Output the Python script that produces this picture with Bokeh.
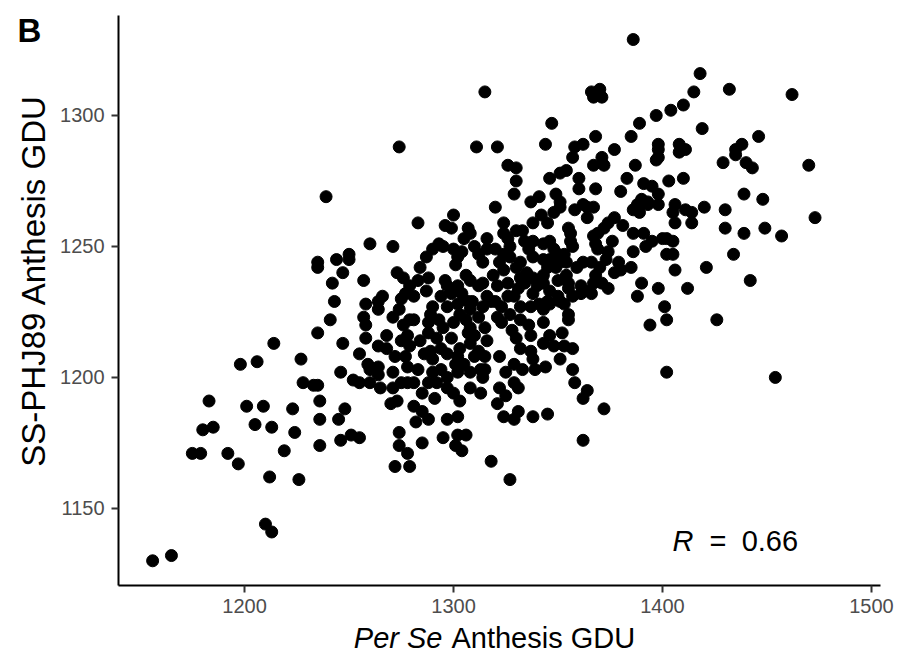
import math

from bokeh.plotting import figure
from bokeh.models import Label, Range1d, FixedTicker
from bokeh.embed import file_html
from bokeh.resources import INLINE

# Per se anthesis GDU (x) and SS-PHJ89 testcross anthesis GDU (y) for each line
per_se_gdu = [
    1156, 1165, 1210, 1213, 1212, 1226, 1175, 1179, 1192, 1197,
    1219, 1183, 1180, 1185, 1201, 1209, 1205, 1213, 1223, 1224,
    1236, 1198, 1206, 1214, 1227, 1228, 1233, 1235, 1236, 1236,
    1235, 1239, 1300, 1283, 1296, 1299, 1307, 1308, 1305, 1316,
    1260, 1271, 1250, 1250, 1235, 1235, 1244, 1247, 1242, 1257,
    1243, 1241, 1293, 1295, 1290, 1287, 1284, 1300, 1304, 1302,
    1301, 1310, 1312, 1314, 1273, 1276, 1288, 1283, 1279, 1277,
    1275, 1274, 1296, 1297, 1299, 1306, 1308, 1312, 1314, 1302,
    1304, 1307, 1302, 1266, 1264, 1264, 1258, 1290, 1297, 1303,
    1308, 1312, 1314, 1279, 1281, 1288, 1293, 1295, 1257, 1258,
    1315, 1308, 1247, 1255, 1258, 1264, 1268, 1246, 1252, 1255,
    1259, 1260, 1264, 1264, 1260, 1265, 1271, 1271, 1275, 1278,
    1281, 1270, 1273, 1248, 1245, 1251, 1255, 1246, 1274, 1274,
    1278, 1272, 1279, 1281, 1285, 1288, 1282, 1285, 1291, 1295,
    1297, 1302, 1302, 1306, 1301, 1304, 1318, 1275, 1278, 1279,
    1277, 1278, 1283, 1286, 1284, 1288, 1299, 1294, 1297, 1290,
    1294, 1297, 1302, 1305, 1310, 1313, 1314, 1312, 1308, 1307,
    1316, 1297, 1300, 1303, 1308, 1313, 1288, 1290, 1302, 1303,
    1386, 1315, 1366, 1370, 1371, 1367, 1347, 1389, 1321, 1311,
    1274, 1344, 1358, 1362, 1357, 1368, 1377, 1385, 1326, 1330,
    1351, 1354, 1367, 1372, 1371, 1387, 1418, 1432, 1462, 1415,
    1410, 1404, 1397, 1419, 1446, 1398, 1398, 1398, 1408, 1411,
    1408, 1438, 1435, 1435, 1429, 1440, 1443, 1470, 1330, 1329,
    1320, 1337, 1341, 1346, 1360, 1360, 1368, 1383, 1380, 1349,
    1351, 1351, 1348, 1345, 1362, 1364, 1367, 1364, 1377, 1374,
    1372, 1369, 1367, 1338, 1324, 1324, 1326, 1330, 1333, 1334,
    1355, 1356, 1356, 1357, 1368, 1369, 1374, 1373, 1370, 1368,
    1379, 1362, 1338, 1343, 1346, 1348, 1350, 1353, 1351, 1320,
    1324, 1327, 1338, 1343, 1346, 1345, 1349, 1354, 1324, 1330,
    1332, 1335, 1338, 1321, 1326, 1331, 1334, 1343, 1343, 1350,
    1355, 1355, 1361, 1365, 1367, 1371, 1374, 1377, 1380, 1316,
    1320, 1326, 1329, 1332, 1338, 1341, 1345, 1350, 1353, 1357,
    1361, 1366, 1323, 1327, 1321, 1337, 1343, 1346, 1351, 1355,
    1336, 1343, 1323, 1315, 1315, 1330, 1332, 1337, 1343, 1346,
    1348, 1352, 1353, 1357, 1355, 1329, 1333, 1338, 1339, 1344,
    1357, 1329, 1331, 1322, 1325, 1358, 1364, 1362, 1321, 1324,
    1329, 1331, 1338, 1345, 1372, 1362, 1327, 1397, 1391, 1395,
    1398, 1403, 1410, 1439, 1448, 1473, 1390, 1393, 1388, 1386,
    1389, 1393, 1398, 1406, 1405, 1406, 1411, 1414, 1414, 1420,
    1430, 1430, 1439, 1449, 1457, 1386, 1391, 1395, 1392, 1400,
    1402, 1405, 1402, 1405, 1386, 1434, 1406, 1421, 1385, 1442,
    1390, 1398, 1412, 1388, 1401, 1402, 1394, 1426, 1402, 1454,
    1271, 1276, 1289, 1292, 1300, 1306, 1310, 1301, 1308, 1292,
    1285, 1289, 1272, 1268, 1281, 1287, 1294, 1309, 1318, 1319,
    1316, 1332, 1340, 1346, 1354, 1359, 1366, 1376, 1381, 1358,
    1342, 1336, 1327, 1322, 1332, 1328, 1337, 1322, 1325, 1351,
]

phj89_gdu = [
    1130, 1132, 1144, 1141, 1162, 1161, 1171, 1171, 1171, 1167,
    1172, 1191, 1180, 1181, 1189, 1189, 1182, 1181, 1188, 1179,
    1174, 1205, 1206, 1213, 1207, 1198, 1197, 1197, 1191, 1184,
    1217, 1269, 1262, 1259, 1258, 1257, 1257, 1255, 1253, 1253,
    1251, 1250, 1247, 1245, 1244, 1242, 1245, 1240, 1236, 1237,
    1229, 1222, 1251, 1250, 1249, 1246, 1242, 1249, 1248, 1246,
    1243, 1250, 1247, 1244, 1240, 1238, 1238, 1237, 1235, 1232,
    1230, 1226, 1237, 1235, 1232, 1239, 1237, 1235, 1236, 1235,
    1232, 1229, 1228, 1231, 1229, 1226, 1228, 1227, 1227, 1224,
    1226, 1223, 1227, 1222, 1222, 1221, 1222, 1219, 1223, 1220,
    1219, 1219, 1213, 1209, 1215, 1212, 1211, 1202, 1199, 1198,
    1205, 1203, 1204, 1201, 1198, 1196, 1202, 1196, 1198, 1198,
    1198, 1190, 1191, 1188, 1184, 1178, 1177, 1176, 1179, 1174,
    1171, 1166, 1166, 1189, 1187, 1184, 1183, 1175, 1192, 1177,
    1184, 1185, 1178, 1178, 1174, 1172, 1168, 1214, 1216, 1212,
    1208, 1204, 1203, 1209, 1214, 1217, 1215, 1211, 1209, 1207,
    1203, 1200, 1202, 1205, 1208, 1203, 1200, 1210, 1213, 1217,
    1214, 1196, 1194, 1191, 1196, 1194, 1198, 1202, 1208, 1211,
    1329, 1309, 1309, 1310, 1307, 1307, 1297, 1297, 1288, 1288,
    1288, 1289, 1288, 1289, 1284, 1292, 1287, 1292, 1281, 1280,
    1278, 1279, 1281, 1281, 1284, 1281, 1316, 1310, 1308, 1309,
    1304, 1302, 1300, 1295, 1292, 1289, 1287, 1284, 1289, 1287,
    1286, 1289, 1287, 1285, 1282, 1282, 1280, 1281, 1275, 1270,
    1265, 1267, 1269, 1276, 1276, 1272, 1272, 1276, 1271, 1270,
    1267, 1265, 1263, 1259, 1266, 1265, 1265, 1261, 1261, 1259,
    1257, 1255, 1254, 1259, 1259, 1255, 1253, 1256, 1256, 1252,
    1257, 1255, 1252, 1250, 1251, 1249, 1248, 1245, 1242, 1239,
    1244, 1244, 1252, 1251, 1252, 1249, 1247, 1247, 1244, 1249,
    1247, 1246, 1246, 1245, 1245, 1242, 1242, 1244, 1241, 1242,
    1238, 1240, 1238, 1235, 1236, 1234, 1236, 1239, 1236, 1237,
    1236, 1234, 1235, 1233, 1236, 1236, 1234, 1240, 1241, 1231,
    1229, 1231, 1231, 1227, 1232, 1228, 1229, 1231, 1228, 1231,
    1232, 1232, 1227, 1224, 1223, 1227, 1226, 1228, 1229, 1224,
    1220, 1221, 1221, 1208, 1203, 1215, 1211, 1216, 1213, 1216,
    1212, 1217, 1212, 1211, 1222, 1205, 1203, 1207, 1203, 1204,
    1203, 1198, 1196, 1196, 1193, 1198, 1195, 1192, 1190, 1185,
    1184, 1187, 1185, 1186, 1188, 1176, 1161, 1283, 1274, 1273,
    1270, 1275, 1276, 1270, 1268, 1261, 1268, 1267, 1266, 1264,
    1263, 1266, 1266, 1266, 1263, 1259, 1264, 1263, 1259, 1265,
    1264, 1257, 1255, 1257, 1254, 1255, 1255, 1252, 1250, 1253,
    1253, 1252, 1247, 1247, 1248, 1247, 1241, 1242, 1242, 1237,
    1236, 1234, 1234, 1231, 1227, 1222, 1220, 1222, 1202, 1200,
    1223, 1220, 1224, 1215, 1221, 1222, 1216, 1205, 1202, 1198,
    1194, 1210, 1208, 1216, 1231, 1233, 1231, 1229, 1229, 1239,
    1249, 1244, 1235, 1233, 1239, 1242, 1244, 1252, 1258, 1264,
    1262, 1249, 1250, 1244, 1222, 1218, 1210, 1208, 1202, 1207,
]

r_value = 0.66

x_ticks = [1200, 1300, 1400, 1500]
y_ticks = [1150, 1200, 1250, 1300]

# panel limits (where the axis lines run)
x_lo, x_hi = 1139.7, 1504.3
y_lo, y_hi = 1120.6, 1338.2

FONT = "Liberation Sans"

# The frame spans the whole canvas; the axes sit at fixed positions inside it,
# so the titles and the panel tag can be placed freely around the panel.
p = figure(
    width=900, height=658,
    output_backend="svg", toolbar_location=None,
    x_range=Range1d(1083.2, 1513.9), y_range=Range1d(1092.7, 1343.9),
    min_border=0,
)

p.scatter(per_se_gdu, phj89_gdu, size=12, fill_color="black", line_color="black")

p.grid.visible = False
p.outline_line_color = None
p.background_fill_color = "white"
p.border_fill_color = "white"

p.xaxis.fixed_location = y_lo
p.yaxis.fixed_location = x_lo
p.xaxis.bounds = (x_lo, x_hi)
p.yaxis.bounds = (y_lo, y_hi)
p.xaxis.ticker = FixedTicker(ticks=x_ticks)
p.yaxis.ticker = FixedTicker(ticks=y_ticks)
for ax in (p.xaxis, p.yaxis):
    ax.axis_line_color = "black"
    ax.axis_line_width = 2
    ax.major_tick_line_color = "#333333"
    ax.major_tick_line_width = 2
    ax.major_tick_out = 7
    ax.major_tick_in = 0
    ax.minor_tick_line_color = None
    ax.major_label_text_font = FONT
    ax.major_label_text_font_size = "20px"
    ax.major_label_text_color = "#4D4D4D"
    ax.major_label_standoff = 7

text_style = dict(text_font=FONT, text_color="black")

# y-axis title
p.add_layout(Label(x=1099.0, y=1237.0, text="SS-PHJ89 Anthesis GDU",
                   angle=math.pi / 2, text_font_size="33px",
                   text_align="center", text_baseline="middle", **text_style))

# x-axis title with italic "Per Se"
p.add_layout(Label(x=1294.7, y=1100.7, text="Per Se", text_font_size="29px",
                   text_font_style="italic", text_align="right",
                   text_baseline="middle", **text_style))
p.add_layout(Label(x=1299.0, y=1100.7, text="Anthesis GDU", text_font_size="29px",
                   text_align="left", text_baseline="middle", **text_style))

# panel tag
p.add_layout(Label(x=1091.3, y=1332.4, text="B", text_font_size="33px",
                   text_font_style="bold", text_align="left",
                   text_baseline="middle", **text_style))

# correlation annotation
p.add_layout(Label(x=1404.8, y=1137.7, text="R", text_font_size="29px",
                   text_font_style="italic", text_align="left",
                   text_baseline="middle", **text_style))
p.add_layout(Label(x=1422.5, y=1137.7, text="=", text_font_size="29px",
                   text_align="left", text_baseline="middle", **text_style))
p.add_layout(Label(x=1437.9, y=1137.7, text=f"{r_value:.2f}", text_font_size="29px",
                   text_align="left", text_baseline="middle", **text_style))

open("out.html", "w").write(file_html(p, INLINE))
